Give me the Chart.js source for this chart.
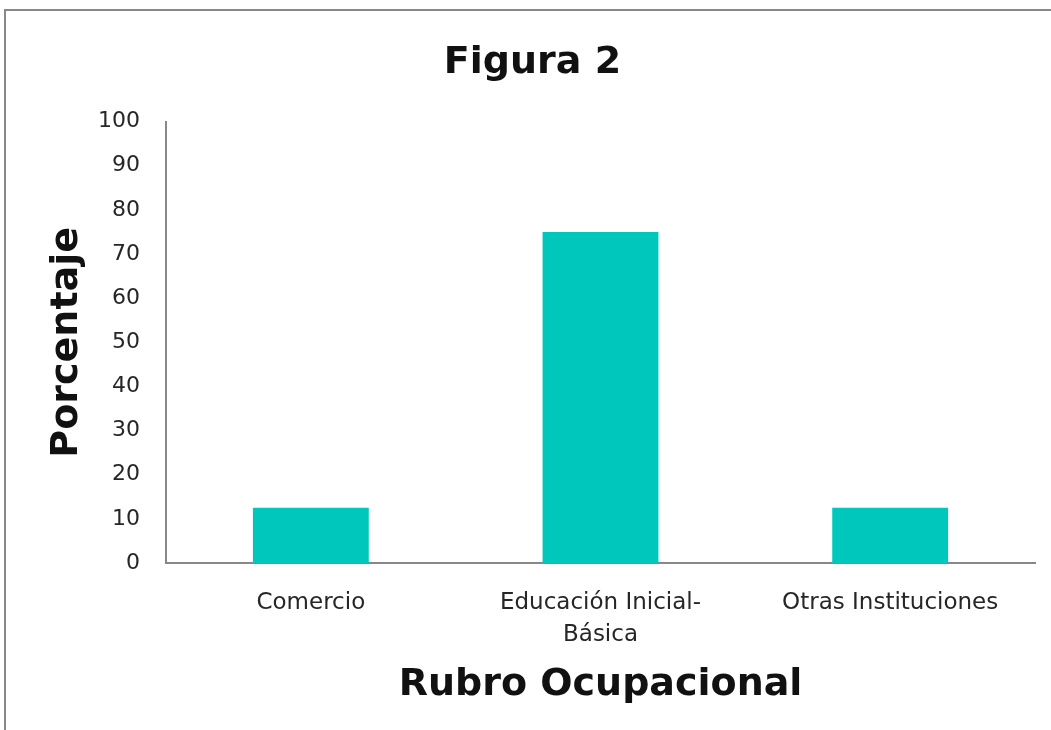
<!DOCTYPE html>
<html>
<head>
<meta charset="utf-8">
<script src="https://cdn.jsdelivr.net/npm/chart.js@4"></script>
<style>
  body { margin: 0; background: #fff; overflow: hidden; }
  #frame { position: absolute; left: 4px; top: 9px; width: 1200px; height: 900px;
           border-left: 2px solid #888; border-top: 2px solid #888; }
  #RubroChart { position: absolute; left: 0; top: 0; }
</style>
</head>
<body>
<div id="frame"></div>
<canvas id="RubroChart" width="1051" height="730"></canvas>
<script>
var categories = ['Comercio', ['Educación Inicial-', 'Básica'], 'Otras Instituciones'];
var porcentajes = [12.5, 75, 12.5];
var yTicks = [0, 10, 20, 30, 40, 50, 60, 70, 80, 90, 100];

var fontName = '"DejaVu Sans", sans-serif';
var teal = 'rgb(0,199,188)';

ctx = document.getElementById('RubroChart').getContext('2d');
var myBarChart = new Chart(ctx, {
  type: 'bar',
  data: {
    labels: categories,
    datasets: [{
      label: 'Porcentaje',
      data: porcentajes,
      backgroundColor: teal,
      borderWidth: 0,
      barPercentage: 0.4,
      categoryPercentage: 1
    }]
  },
  options: {
    responsive: false,
    animation: false,
    layout: { padding: { left: 30, right: 16, top: 20, bottom: 20 } },
    plugins: {
      legend: { display: false },
      tooltip: { enabled: false },
      title: {
        display: true,
        text: 'Figura 2',
        color: '#111',
        font: { family: fontName, size: 38, weight: 'bold', lineHeight: 1.2 },
        padding: { top: 20, bottom: 36 }
      }
    },
    scales: {
      x: {
        grid: { display: false },
        border: { display: true, color: '#888', width: 2 },
        ticks: { color: '#262626', font: { family: fontName, size: 23, lineHeight: 1.4 }, padding: 16, maxRotation: 0 },
        title: {
          display: true,
          text: 'Rubro Ocupacional',
          color: '#111',
          font: { family: fontName, size: 38, weight: 'bold', lineHeight: 1.2 },
          padding: { top: 10, bottom: 2 }
        },
        afterFit: function(scale) { scale.height = 147; }
      },
      y: {
        min: 0,
        max: 100,
        afterBuildTicks: function(scale) {
          scale.ticks = yTicks.map(function(v) { return { value: v }; });
        },
        grid: { display: false },
        border: { display: true, color: '#888', width: 2 },
        ticks: { color: '#262626', font: { family: fontName, size: 22 }, padding: 18 },
        title: {
          display: true,
          text: 'Porcentaje',
          color: '#111',
          font: { family: fontName, size: 38, weight: 'bold', lineHeight: 1.2 },
          padding: { top: 14, bottom: 0 }
        },
        afterFit: function(scale) { scale.width = 136; }
      }
    }
  }
});
</script>
</body>
</html>
